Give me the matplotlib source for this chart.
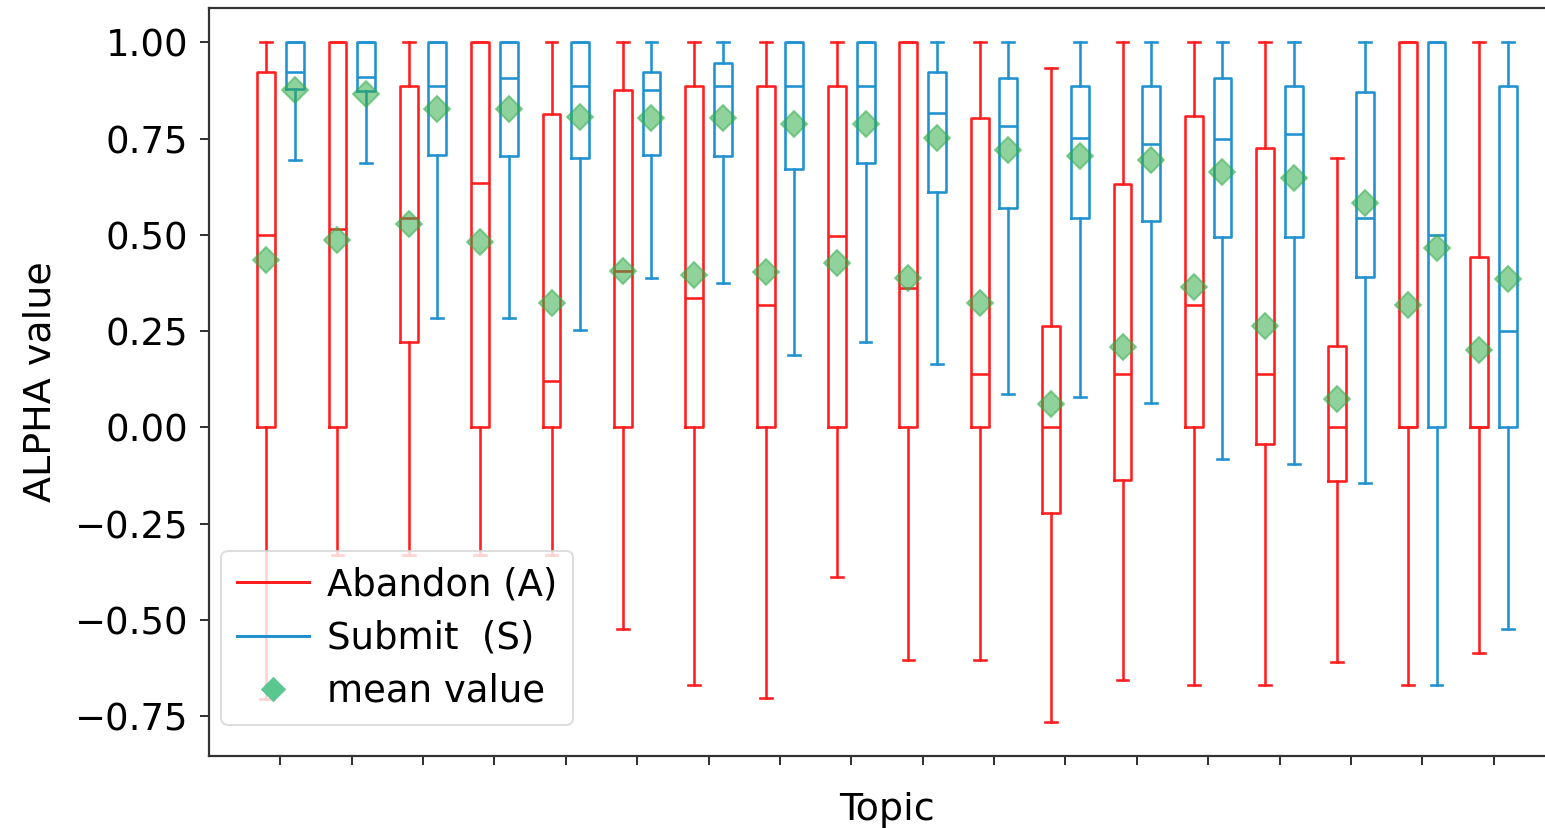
import matplotlib
matplotlib.use("Agg")
import matplotlib.pyplot as plt
from matplotlib.lines import Line2D
import numpy as np

# ---- data (18 topics) ----
topics = list(range(1, 19))

# Abandon (A)
a_whislo = [-0.706, -0.33, -0.33, -0.33, -0.33, -0.522, -0.668, -0.702, -0.389,
            -0.603, -0.603, -0.765, -0.655, -0.668, -0.668, -0.609, -0.668, -0.586]
a_q1 = [0.0, 0.0, 0.222, 0.0, 0.0, 0.0, 0.0, 0.0, 0.0,
        0.0, 0.0, -0.223, -0.137, 0.0, -0.042, -0.138, 0.0, 0.0]
a_med = [0.500, 0.514, 0.544, 0.634, 0.120, 0.406, 0.337, 0.318, 0.497,
         0.363, 0.138, 0.0, 0.138, 0.319, 0.138, 0.0, 0.0, 0.0]
a_q3 = [0.923, 1.0, 0.887, 1.0, 0.813, 0.876, 0.887, 0.887, 0.887,
        1.0, 0.804, 0.263, 0.631, 0.809, 0.726, 0.211, 1.0, 0.443]
a_whishi = [1.0, 1.0, 1.0, 1.0, 1.0, 1.0, 1.0, 1.0, 1.0,
            1.0, 1.0, 0.932, 1.0, 1.0, 1.0, 0.699, 1.0, 1.0]
a_mean = [0.436, 0.487, 0.527, 0.482, 0.322, 0.406, 0.397, 0.403, 0.426,
          0.389, 0.322, 0.062, 0.210, 0.365, 0.263, 0.075, 0.318, 0.201]

# Submit (S)
s_whislo = [0.694, 0.686, 0.283, 0.283, 0.253, 0.389, 0.374, 0.189, 0.222,
            0.166, 0.086, 0.079, 0.064, -0.081, -0.094, -0.144, -0.668, -0.522]
s_q1 = [0.878, 0.874, 0.707, 0.705, 0.699, 0.707, 0.705, 0.672, 0.686,
        0.610, 0.571, 0.545, 0.536, 0.495, 0.495, 0.390, 0.0, 0.0]
s_med = [0.924, 0.910, 0.887, 0.906, 0.887, 0.876, 0.887, 0.887, 0.887,
         0.816, 0.783, 0.751, 0.735, 0.750, 0.761, 0.544, 0.500, 0.250]
s_q3 = [1.0, 1.0, 1.0, 1.0, 1.0, 0.923, 0.945, 1.0, 1.0,
        0.923, 0.906, 0.887, 0.887, 0.906, 0.887, 0.872, 1.0, 0.887]
s_whishi = [1.0] * 18
s_mean = [0.876, 0.867, 0.826, 0.826, 0.807, 0.804, 0.804, 0.789, 0.789,
          0.752, 0.720, 0.705, 0.694, 0.663, 0.648, 0.582, 0.467, 0.386]

yticks = [-0.75, -0.50, -0.25, 0.00, 0.25, 0.50, 0.75, 1.00]

RED = "#ff1f1f"
BLUE = "#2192cf"
MEAN_C = "#34ad4c"
LEG_MEAN_C = "#5ac790"

def make_stats(lo, q1, med, q3, hi, mean):
    return [dict(whislo=a, q1=b, med=c, q3=d, whishi=e, mean=f, fliers=[], label="")
            for a, b, c, d, e, f in zip(lo, q1, med, q3, hi, mean)]

DPI = 72
fig = plt.figure(figsize=(1545 / DPI, 828 / DPI), dpi=DPI)
ax = fig.add_axes([209 / 1545, 72 / 828, 1356 / 1545, 748 / 828])

base = np.arange(len(topics)) * 2.0
lw = 2.6

def draw(stats, pos, color):
    ax.bxp(stats, positions=pos, widths=0.5, capwidths=0.33,
           showmeans=True, showfliers=False, manage_ticks=False,
           boxprops=dict(color=color, linewidth=lw),
           whiskerprops=dict(color=color, linewidth=lw),
           capprops=dict(color=color, linewidth=lw),
           medianprops=dict(color=color, linewidth=lw),
           meanprops=dict(marker="D", markerfacecolor=MEAN_C, markeredgecolor=MEAN_C,
                          markersize=18, markeredgewidth=2, alpha=0.55,
                          linestyle="none"))

draw(make_stats(a_whislo, a_q1, a_med, a_q3, a_whishi, a_mean), base - 0.4, RED)
draw(make_stats(s_whislo, s_q1, s_med, s_q3, s_whishi, s_mean), base + 0.4, BLUE)

ax.set_xlim(-2, 36)
ax.set_ylim(-0.853, 1.089)
ax.set_xticks(base)
ax.set_xticklabels([""] * len(base))
ax.set_yticks(yticks)
ax.set_yticklabels([f"{v:.2f}".replace("-", "\u2212") for v in yticks])

ax.tick_params(axis="both", length=9, width=2, color="#333333", labelsize=37, pad=12)
for sp in ax.spines.values():
    sp.set_linewidth(2.2)
    sp.set_color("#333333")

ax.set_xlabel("Topic", fontsize=38, labelpad=15)
ax.set_ylabel("ALPHA value", fontsize=38, labelpad=16)

handles = [Line2D([], [], color=RED, lw=3),
           Line2D([], [], color=BLUE, lw=3),
           Line2D([], [], ls="none", marker="D", color=LEG_MEAN_C, markersize=17)]
labels = ["Abandon (A)", "Submit  (S)", "mean value"]
leg = ax.legend(handles, labels, loc="lower left", bbox_to_anchor=(0.009, 0.041),
                borderaxespad=0, fontsize=37, labelspacing=0.44, borderpad=0.42,
                handlelength=1.95, handletextpad=0.5, framealpha=0.8)
leg.get_frame().set_linewidth(2)
leg.get_frame().set_edgecolor("#d5d5d5")

fig.savefig("out.png", dpi=DPI)
